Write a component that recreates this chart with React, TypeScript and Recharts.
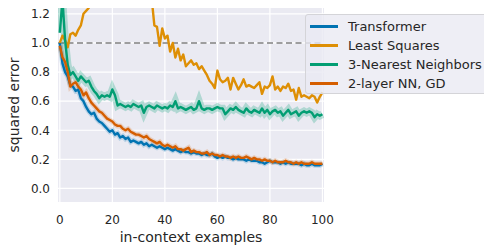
import React from "react";
import { LineChart, Line, XAxis, YAxis, CartesianGrid, ReferenceLine, Legend } from "recharts";

const examples: number[] = Array.from({ length: 101 }, (_, i) => i);

const transformer: number[] = [
  1.0, 0.86, 0.8, 0.77, 0.71, 0.7, 0.67, 0.68, 0.62, 0.6,
  0.56, 0.53, 0.51, 0.52, 0.48, 0.46, 0.45, 0.43, 0.41, 0.39,
  0.4, 0.37, 0.38, 0.35, 0.36, 0.34, 0.35, 0.32, 0.33, 0.32,
  0.31, 0.32, 0.3, 0.31, 0.29, 0.3, 0.29, 0.28, 0.29, 0.28,
  0.27, 0.28, 0.27, 0.26, 0.27, 0.26, 0.25, 0.26, 0.25, 0.25,
  0.24, 0.25, 0.24, 0.24, 0.23, 0.24, 0.23, 0.23, 0.24, 0.22,
  0.21, 0.22, 0.21, 0.22, 0.21, 0.21, 0.2, 0.21, 0.2, 0.2,
  0.2, 0.19, 0.2, 0.19, 0.19, 0.19, 0.18, 0.18, 0.17, 0.18,
  0.19, 0.18, 0.18, 0.18, 0.17, 0.18, 0.17, 0.18, 0.17, 0.17,
  0.17, 0.17, 0.16, 0.17, 0.16, 0.16, 0.17, 0.16, 0.16, 0.16,
  0.17,
];

const leastSquares: number[] = [
  1.0, 1.05, 1.02, 0.97, 1.06, 1.07, 1.05, 1.09, 1.12, 1.2,
  1.22, 1.24, 1.3, 1.4, 1.5, 1.55, 1.6, 1.7, 1.75, 1.8,
  1.85, 1.9, 1.85, 1.9, 1.8, 1.85, 1.75, 1.7, 1.65, 1.6,
  1.55, 1.5, 1.45, 1.4, 1.38, 1.3, 1.12, 1.11, 0.98, 1.1,
  1.03, 1.05, 0.94, 1.0, 0.9, 0.96, 0.88, 0.92, 0.84, 0.86,
  0.88, 0.85, 0.86, 0.82, 0.84, 0.81, 0.78, 0.74, 0.72, 0.69,
  0.81, 0.75, 0.73, 0.74, 0.76, 0.68, 0.76, 0.72, 0.68, 0.71,
  0.75, 0.7, 0.71, 0.7, 0.69, 0.71, 0.73, 0.65, 0.7, 0.69,
  0.71, 0.77, 0.68, 0.7, 0.67, 0.7, 0.69, 0.72, 0.67, 0.68,
  0.61, 0.69, 0.63, 0.64, 0.63, 0.62, 0.64, 0.63, 0.59, 0.63,
  0.66,
];

const nearestNeighbors: number[] = [
  1.07, 1.3, 1.02, 0.85, 0.78, 0.8, 0.77, 0.74, 0.77, 0.75,
  0.73, 0.74, 0.7, 0.67, 0.65, 0.62, 0.64, 0.63, 0.64, 0.63,
  0.68, 0.64, 0.57, 0.58, 0.57, 0.56, 0.57, 0.56, 0.58, 0.57,
  0.56, 0.57, 0.52, 0.56, 0.57, 0.56, 0.55, 0.57, 0.56, 0.55,
  0.56, 0.55, 0.57, 0.56, 0.6, 0.55, 0.56, 0.55, 0.54, 0.55,
  0.56, 0.54, 0.55, 0.6, 0.55, 0.54, 0.55, 0.55, 0.54, 0.55,
  0.56, 0.55, 0.55, 0.51, 0.53, 0.55, 0.54, 0.56, 0.54, 0.53,
  0.52, 0.55, 0.53, 0.52, 0.54, 0.53, 0.52, 0.55, 0.52, 0.54,
  0.51, 0.53, 0.54, 0.52, 0.53, 0.5, 0.52, 0.54, 0.51, 0.52,
  0.53, 0.5, 0.52, 0.53, 0.52, 0.53, 0.52, 0.49, 0.51, 0.5,
  0.51,
];

const nnGd: number[] = [
  0.98, 0.9, 0.87, 0.8, 0.7, 0.72, 0.73, 0.7, 0.68, 0.64,
  0.66, 0.62, 0.59, 0.57, 0.55, 0.53, 0.52, 0.5, 0.48, 0.47,
  0.46, 0.44, 0.43, 0.43, 0.41, 0.4, 0.41, 0.39, 0.38, 0.37,
  0.37, 0.36, 0.35, 0.36, 0.34, 0.33, 0.32, 0.31, 0.32, 0.3,
  0.29, 0.3, 0.29, 0.28, 0.29, 0.27, 0.27, 0.26, 0.27, 0.28,
  0.25, 0.26, 0.25, 0.25, 0.24, 0.24, 0.25, 0.23, 0.24, 0.23,
  0.23, 0.22, 0.23, 0.22, 0.22, 0.21, 0.22, 0.21, 0.22, 0.21,
  0.21, 0.22, 0.21, 0.2, 0.21, 0.2, 0.2, 0.19, 0.2, 0.19,
  0.19, 0.18, 0.19, 0.18, 0.18, 0.18, 0.19, 0.18, 0.18, 0.17,
  0.18, 0.17, 0.18, 0.17, 0.17, 0.17, 0.18, 0.17, 0.17, 0.17,
  0.17,
];

const xTicks: number[] = [0, 20, 40, 60, 80, 100];
const yTicks: number[] = [0, 0.2, 0.4, 0.6, 0.8, 1.0, 1.2];

const seriesNames = ["Transformer", "Least Squares", "3-Nearest Neighbors", "2-layer NN, GD"];
const seriesKeys = ["transformer", "leastSquares", "knn", "nngd"];
const seriesColors = ["#0173b2", "#de8f05", "#029e73", "#d55e00"];

const data = examples.map((x, i) => ({
  x,
  transformer: transformer[i],
  leastSquares: leastSquares[i],
  knn: nearestNeighbors[i],
  nngd: nnGd[i],
}));

const FONT = "DejaVu Sans, sans-serif";
const TEXT = "#262626";

const LegendBox = () => (
  <div
    style={{
      width: 185,
      height: 80,
      boxSizing: "border-box",
      background: "rgba(234,234,242,0.8)",
      border: "1px solid #d4d4d8",
      borderRadius: 3,
      fontFamily: FONT,
      fontSize: 13,
      color: TEXT,
      paddingTop: 2,
    }}
  >
    {seriesNames.map((name, i) => (
      <div key={name} style={{ display: "flex", alignItems: "center", height: 19 }}>
        <div style={{ width: 28, height: 2.5, background: seriesColors[i], marginLeft: 4, marginRight: 10 }} />
        <span style={{ whiteSpace: "nowrap", lineHeight: "19px" }}>{name}</span>
      </div>
    ))}
  </div>
);

export default function App() {
  return (
    <div style={{ position: "absolute", left: 0, top: 0, width: 484, height: 245, overflow: "hidden", background: "#fff" }}>
      <LineChart width={484} height={245} data={data} margin={{ top: 8, right: 160, left: 0, bottom: 0 }}>
        <CartesianGrid fill="#eaeaf2" stroke="#ffffff" strokeWidth={1.2} verticalValues={xTicks} horizontalValues={yTicks} />
        <XAxis
          dataKey="x"
          type="number"
          domain={[-0.7, 100.6]}
          ticks={xTicks}
          allowDataOverflow
          axisLine={false}
          tickLine={false}
          tickSize={6}
          tickMargin={7}
          height={43}
          tick={{ fill: TEXT, fontSize: 12, fontFamily: FONT }}
          label={{
            content: () => (
              <text x={191} y={242} textAnchor="middle" fill={TEXT} fontSize={14} fontFamily={FONT}>
                in-context examples
              </text>
            ),
          }}
        />
        <YAxis
          type="number"
          domain={[-0.093, 1.24]}
          ticks={yTicks}
          allowDataOverflow
          axisLine={false}
          tickLine={false}
          tickSize={6}
          tickMargin={2}
          width={58}
          tickFormatter={(v: number) => v.toFixed(1)}
          tick={{ fill: TEXT, fontSize: 12, fontFamily: FONT }}
          label={{
            content: () => (
              <text
                x={19}
                y={105}
                transform="rotate(-90 19 105)"
                textAnchor="middle"
                fill={TEXT}
                fontSize={14}
                fontFamily={FONT}
              >
                squared error
              </text>
            ),
          }}
        />
        <ReferenceLine y={1} stroke="#808080" strokeWidth={1.5} strokeDasharray="6 3.5" />
        <Line dataKey="transformer" stroke={seriesColors[0]} strokeOpacity={0.2} strokeWidth={5} dot={false} isAnimationActive={false} legendType="none" />
        <Line dataKey="knn" stroke={seriesColors[2]} strokeOpacity={0.25} strokeWidth={7.5} dot={false} isAnimationActive={false} legendType="none" />
        <Line dataKey="nngd" stroke={seriesColors[3]} strokeOpacity={0.2} strokeWidth={5} dot={false} isAnimationActive={false} legendType="none" />
        {seriesKeys.map((k, i) => (
          <Line
            key={k}
            dataKey={k}
            name={seriesNames[i]}
            stroke={seriesColors[i]}
            strokeWidth={2.4}
            dot={false}
            isAnimationActive={false}
            strokeLinejoin="round"
          />
        ))}
        <Legend
          layout="horizontal"
          align="center"
          verticalAlign="middle"
          content={<LegendBox />}
          wrapperStyle={{ position: "absolute", left: 305, top: 14, width: 185 }}
        />
      </LineChart>
    </div>
  );
}
